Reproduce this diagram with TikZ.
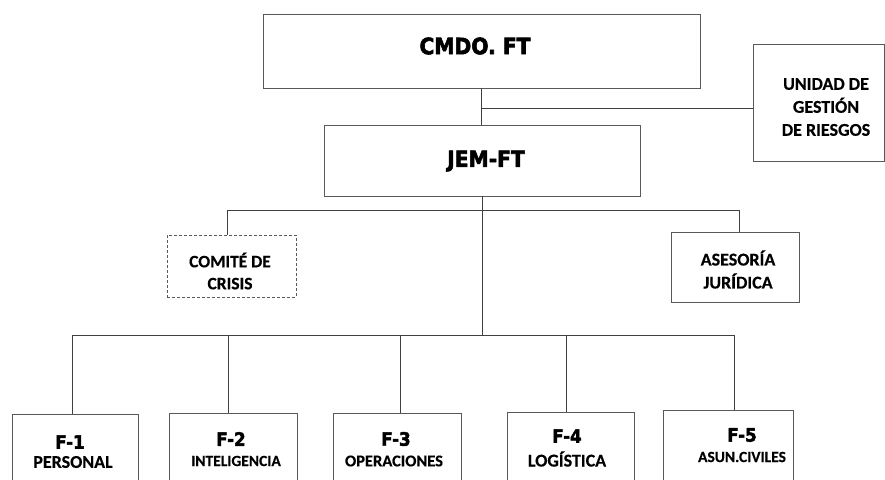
\documentclass[tikz,border=0pt]{standalone}
\usepackage{fontspec}
\setmainfont{Carlito}[BoldFeatures={FakeBold=0.4}]
\newfontfamily\heavyfont{DejaVu Sans}[BoldFeatures={FakeBold=2.6,FakeStretch=0.9}]
\begin{document}
\begin{tikzpicture}[x=1pt,y=-1pt,
  box/.style={draw=black!65,line width=0.7pt,inner sep=0pt},
  wire/.style={draw=black!75,line width=0.7pt},
  head/.style={font=\heavyfont\bfseries\fontsize{22.5}{26}\selectfont,inner sep=0pt},
  fhead/.style={font=\heavyfont\bfseries\fontsize{18.5}{22}\selectfont,inner sep=0pt},
  lbl/.style={font=\bfseries\fontsize{18}{23}\selectfont,align=center,inner sep=0pt},
]
\useasboundingbox (0,0) rectangle (885,479);

% boxes
\node[box,minimum width=437pt,minimum height=74pt] (cmdo) at (481.5,51) {};
\node[box,minimum width=131pt,minimum height=117pt] (unidad) at (818.5,102.5) {};
\node[box,minimum width=316pt,minimum height=71pt] (jem) at (482,160.5) {};
\node[box,dashed,dash pattern=on 3pt off 2pt,minimum width=129pt,minimum height=62pt] (comite) at (231.5,266) {};
\node[box,minimum width=128pt,minimum height=70pt] (asesoria) at (735,267) {};
\node[box,minimum width=126pt,minimum height=90pt] (f1) at (75,459) {};
\node[box,minimum width=128pt,minimum height=90pt] (f2) at (233,458) {};
\node[box,minimum width=128pt,minimum height=90pt] (f3) at (397,458) {};
\node[box,minimum width=127pt,minimum height=90pt] (f4) at (570.5,457) {};
\node[box,minimum width=130pt,minimum height=90pt] (f5) at (728,455) {};

% texts
\node[head] (tcmdo) at (475,46) {CMDO. FT};
\node[head] (tjem) at (486,161) {JEM-FT};
\node[lbl] (tunidad) at (826,107) {UNIDAD DE\\GESTIÓN\\DE RIESGOS};
\node[lbl,font=\bfseries\fontsize{17.5}{22}\selectfont] (tcomite) at (230,271) {COMITÉ DE\\CRISIS};
\node[lbl] (tasesoria) at (738,269.5) {ASESORÍA\\JURÍDICA};

\node[fhead] (h1) at (70,442) {F-1};
\node[lbl] (l1) at (73,462) {PERSONAL};
\node[fhead] (h2) at (231,439) {F-2};
\node[lbl,font=\bfseries\fontsize{15.5}{18}\selectfont] (l2) at (236,461) {INTELIGENCIA};
\node[fhead] (h3) at (396,439) {F-3};
\node[lbl,font=\bfseries\fontsize{16.5}{18}\selectfont] (l3) at (394,461) {OPERACIONES};
\node[fhead] (h4) at (567,436) {F-4};
\node[lbl] (l4) at (567,459) {LOGÍSTICA};
\node[fhead] (h5) at (742,435) {F-5};
\node[lbl,font=\bfseries\fontsize{15.5}{18}\selectfont] (l5) at (742,457) {ASUN.CIVILES};

% connector junctions
\coordinate (cj) at (481,108);
\coordinate (jc) at (482,335);
\coordinate (dcom) at (227,210);
\coordinate (dase) at (739,210);
\coordinate (d1) at (72,335);
\coordinate (d2) at (228,335);
\coordinate (d3) at (400,335);
\coordinate (d4) at (566,335);
\coordinate (d5) at (734,335);

% connectors
\draw[wire] (cmdo.south -| cj) -- (jem.north -| cj);
\draw[wire] (cj) -- (cj -| unidad.west);
\draw[wire] (jem.south) -- (jc);
\draw[wire] (comite.north -| dcom) -- (dcom) -- (dase) -- (asesoria.north -| dase);
\draw[wire] (f1.north -| d1) -- (d1) -- (d5) -- (f5.north -| d5);
\draw[wire] (d2) -- (f2.north -| d2);
\draw[wire] (d3) -- (f3.north -| d3);
\draw[wire] (d4) -- (f4.north -| d4);
\end{tikzpicture}
\end{document}
